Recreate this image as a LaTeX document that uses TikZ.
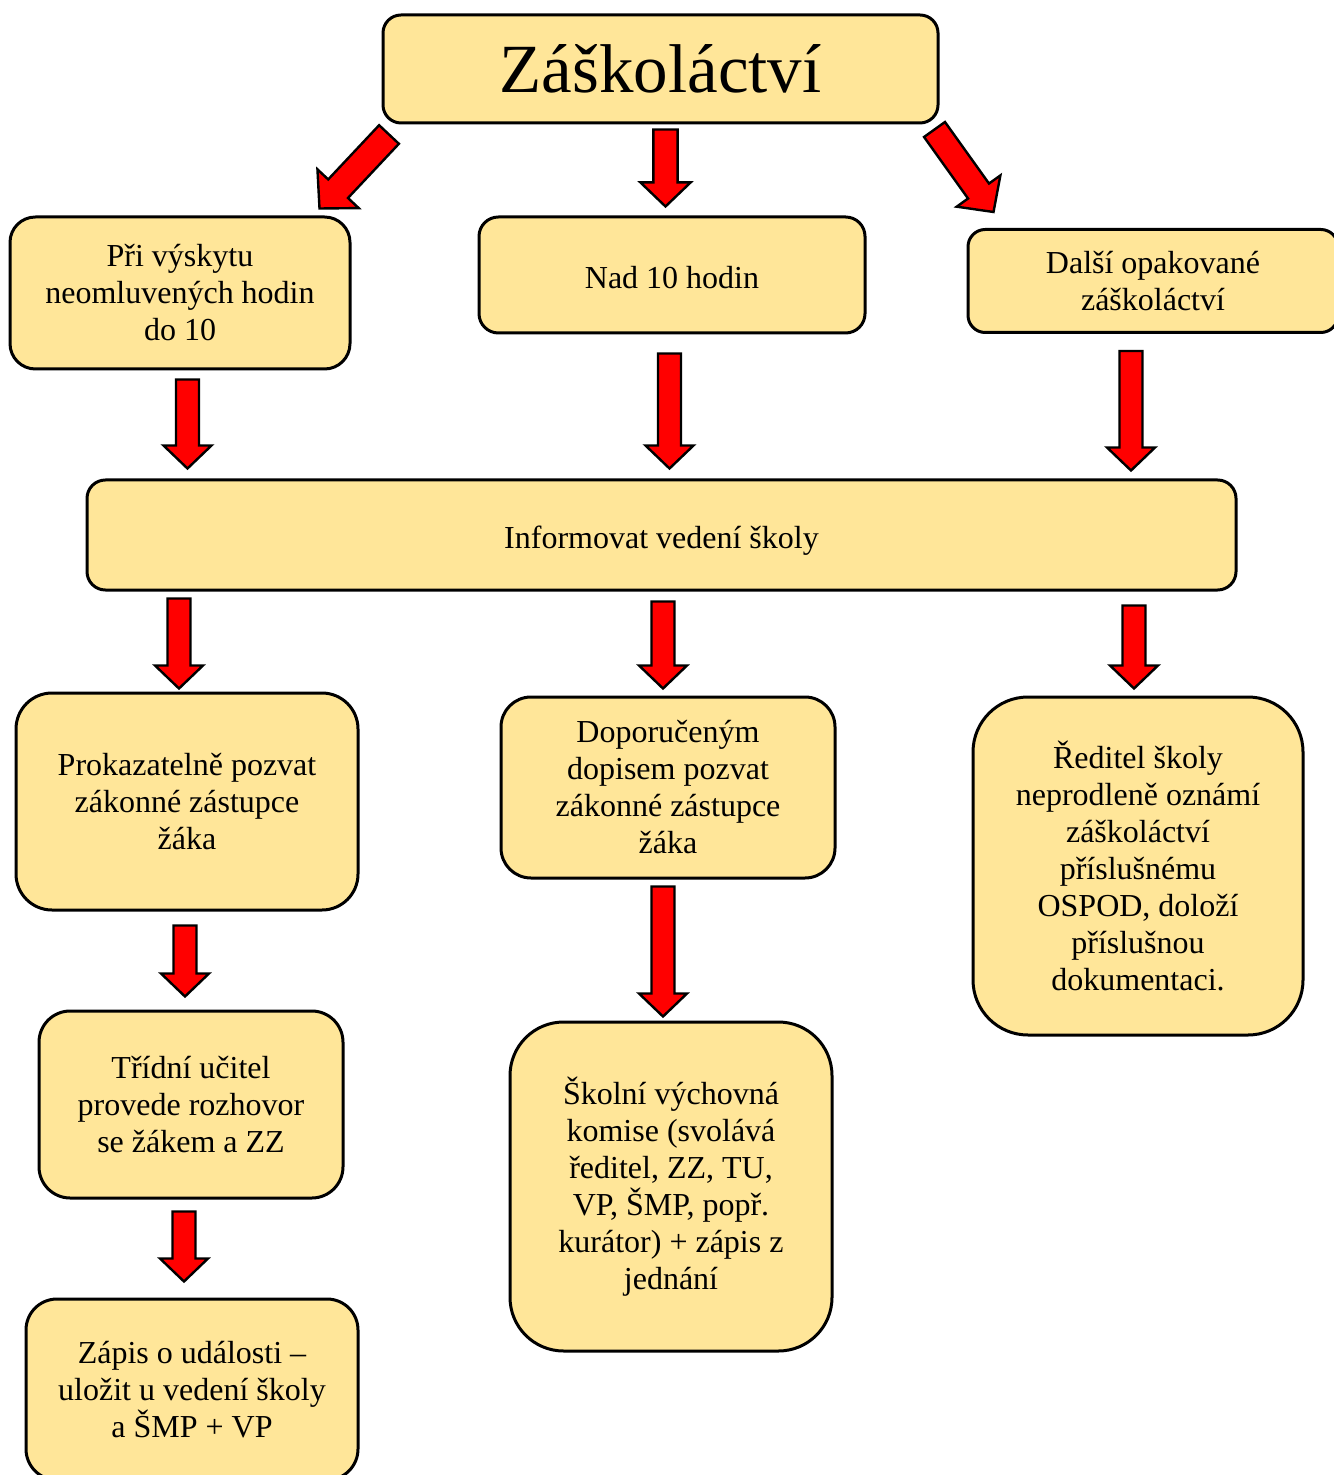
\documentclass[tikz,border=0pt]{standalone}
\usepackage{fontspec}
\setmainfont{Liberation Serif}
\usetikzlibrary{calc}
\definecolor{boxfill}{RGB}{255,230,153}
\tikzset{
  box/.style={draw, line width=1.5pt, fill=boxfill, rounded corners=#1, align=center, inner sep=0pt},
  box/.default=10pt,
  oneline/.style={text height=17pt, text depth=3.5pt},
  fatarrow/.style={draw=black, fill=red, line width=1.2pt, line join=miter}
}
% block arrow: [size factor]{tail}{tip}
\newcommand{\fatarrow}[3][1]{%
  \coordinate (fa-h) at ($(#3)!#1*11.5pt!(#2)$);
  \draw[fatarrow] ($(#2)!#1*5.75pt!90:(#3)$) -- ($(fa-h)!#1*5.75pt!90:(#3)$)
    -- ($(fa-h)!#1*12pt!90:(#3)$) -- (#3) -- ($(fa-h)!#1*12pt!-90:(#3)$)
    -- ($(fa-h)!#1*5.75pt!-90:(#3)$) -- ($(#2)!#1*5.75pt!-90:(#3)$) -- cycle;}
\begin{document}
\begin{tikzpicture}[x=0.5pt, y=-0.5pt, font=\fontsize{16}{18.5}\selectfont]
  \useasboundingbox (0,0) rectangle (1333,1475);
  \node[box=9pt, minimum width=277.5pt, minimum height=54pt, font=\fontsize{34.5}{40}\selectfont] (top) at (660.5,69) {Záškoláctví};
  \node[box=12.7pt, minimum width=170pt, minimum height=76pt] (vyskyt) at (180,293) {Při výskytu\\neomluvených hodin\\do 10};
  \node[box=9.7pt, minimum width=193pt, minimum height=58pt, oneline] (nad) at (672,275) {Nad 10 hodin};
  \node[box=8.6pt, minimum width=185pt, minimum height=51.5pt, yshift=-1pt] (dalsi) at (1153,279) {Další opakované\\záškoláctví};
  \node[box=9.2pt, minimum width=574.5pt, minimum height=55pt, oneline] (info) at (661.5,535) {Informovat vedení školy};
  \node[box=18pt, minimum width=171pt, minimum height=108.5pt] (pozvat) at (187,801.5) {Prokazatelně pozvat\\zákonné zástupce\\žáka};
  \node[box=15pt, minimum width=167pt, minimum height=90.5pt] (dopis) at (668,787.5) {Doporučeným\\dopisem pozvat\\zákonné zástupce\\žáka};
  \node[box=27.5pt, minimum width=165pt, minimum height=169pt] (reditel) at (1138,866) {Ředitel školy\\neprodleně oznámí\\záškoláctví\\příslušnému\\OSPOD, doloží\\příslušnou\\dokumentaci.};
  \node[box=15.6pt, minimum width=152pt, minimum height=93.5pt] (ucitel) at (191,1104.5) {Třídní učitel\\provede rozhovor\\se žákem a ZZ};
  \node[box=26.8pt, minimum width=161pt, minimum height=164.5pt] (komise) at (671,1186.5) {Školní výchovná\\komise (svolává\\ředitel, ZZ, TU,\\VP, ŠMP, popř.\\kurátor) + zápis z\\jednání};
  \node[box=15.5pt, minimum width=166pt, minimum height=90.5pt] (zapis) at (192,1389.5) {Zápis o události –\\uložit u vedení školy\\a ŠMP + VP};

  \path ($(top.south)+(-271.5,10)$) coordinate (a1s) ($(vyskyt.north east)+(-32,-7)$) coordinate (a1e)
    ($(top.south)+(5,5)$) coordinate (a2s) ($(a2s |- nad.north)+(0,-9)$) coordinate (a2e)
    ($(top.south east)+(-5,5)$) coordinate (a3s) ($(dalsi.north west)+(27,-16)$) coordinate (a3e)
    ($(vyskyt.south)+(7.5,9)$) coordinate (a4s) ($(a4s |- info.north)+(0,-10)$) coordinate (a4e)
    ($(nad.south)+(-2.5,19)$) coordinate (a5s) ($(a5s |- info.north)+(0,-10)$) coordinate (a5e)
    ($(dalsi.south)+(-22,17)$) coordinate (a6s) ($(a6s |- info.north)+(0,-8)$) coordinate (a6e)
    ($(info.south west)+(93.5,7)$) coordinate (a7s) ($(a7s |- pozvat.north)+(0,-3)$) coordinate (a7e)
    ($(info.south)+(1.5,10)$) coordinate (a8s) ($(a8s |- dopis.north)+(0,-7)$) coordinate (a8e)
    ($(info.south east)+(-103.5,14)$) coordinate (a9s) ($(a9s |- reditel.north)+(0,-7)$) coordinate (a9e)
    ($(pozvat.south)+(-2,14)$) coordinate (a10s) ($(a10s |- ucitel.north)+(0,-13)$) coordinate (a10e)
    ($(dopis.south)+(-5,7)$) coordinate (a11s) ($(a11s |- komise.north)+(0,-4)$) coordinate (a11e)
    ($(ucitel.south)+(-7,12)$) coordinate (a12s) ($(a12s |- zapis.north)+(0,-16)$) coordinate (a12e);

  \fatarrow[1.18]{a1s}{a1e}
  \fatarrow[1.05]{a2s}{a2e}
  \fatarrow[1.12]{a3s}{a3e}
  \foreach \i in {4,...,12} {\fatarrow{a\i s}{a\i e}}
\end{tikzpicture}
\end{document}
